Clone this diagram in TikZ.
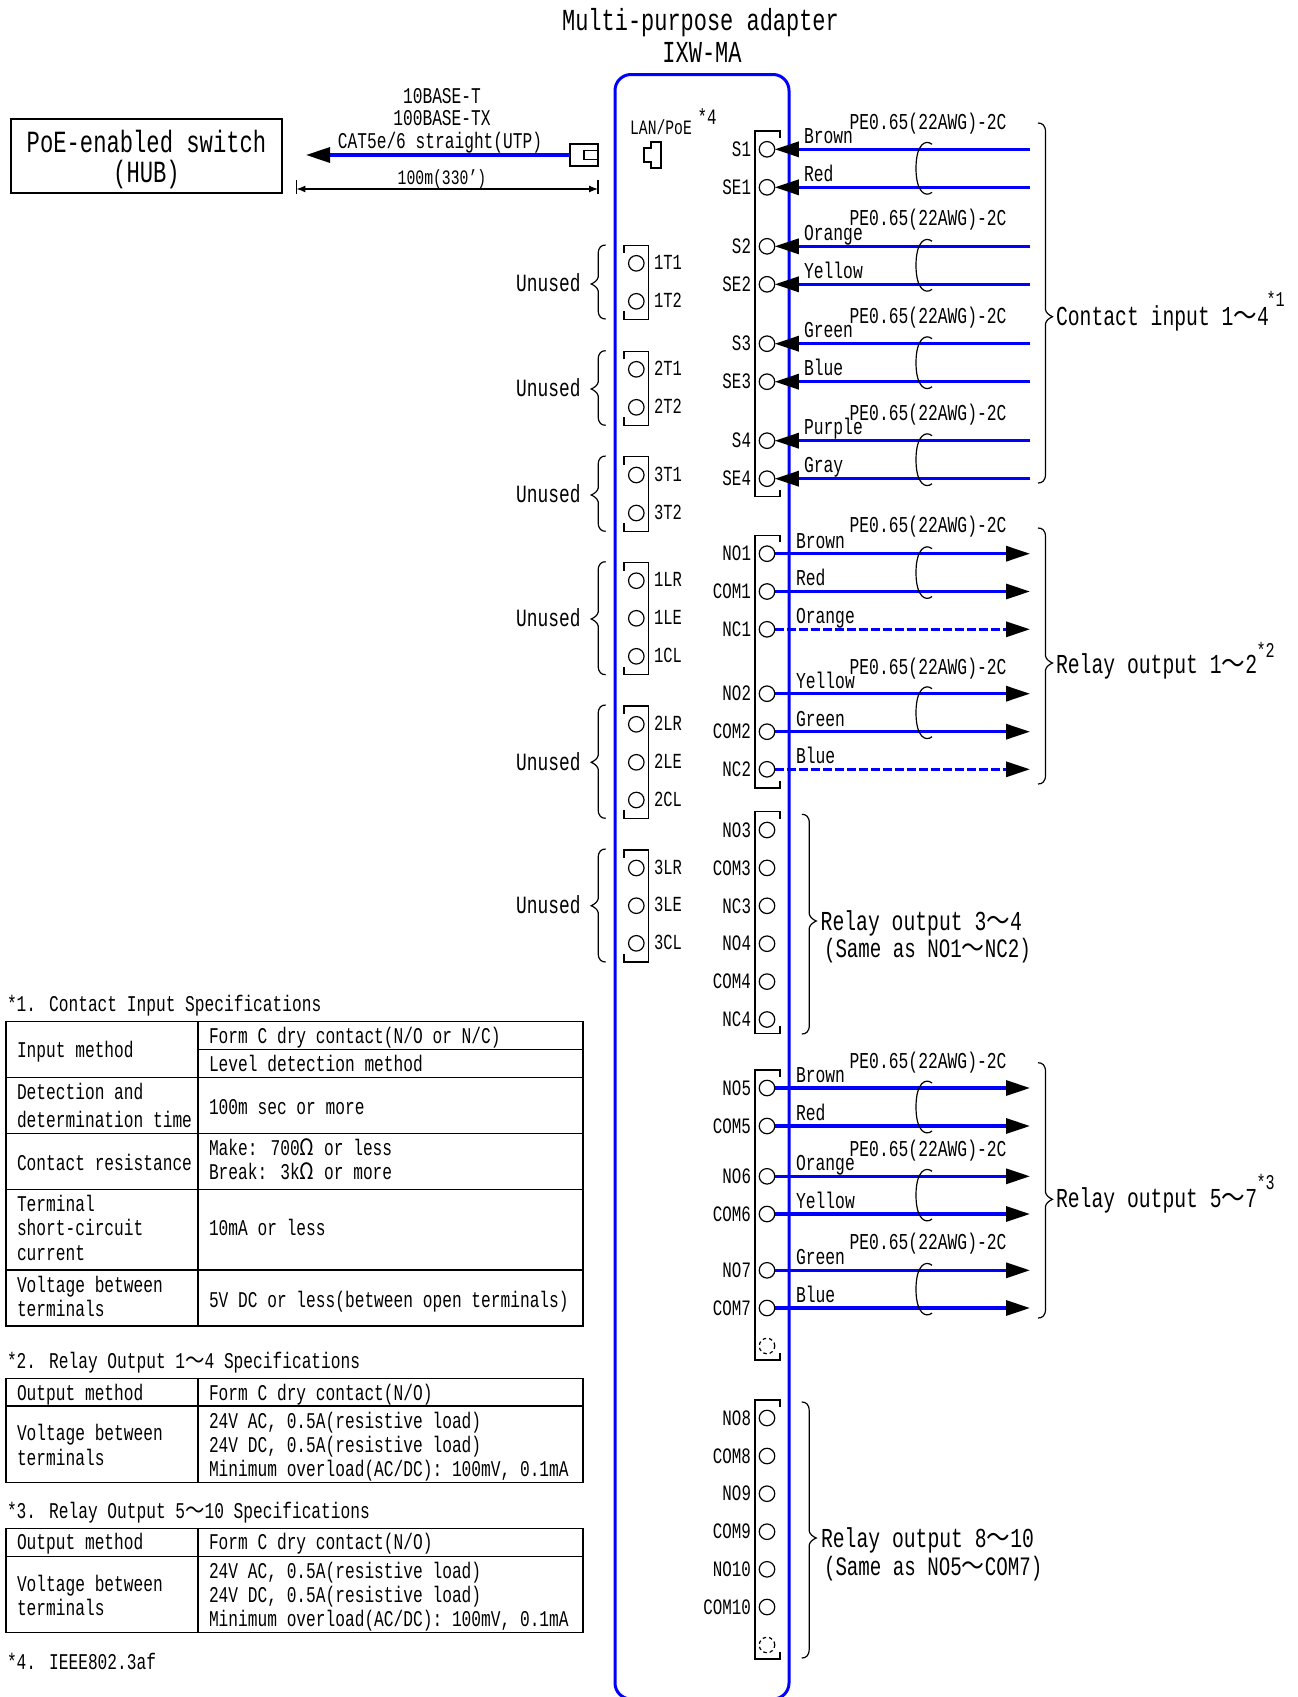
\documentclass[tikz,border=0pt]{standalone}
\usepackage{fontspec}
\setmainfont[FakeStretch=0.72]{Liberation Mono}
\newfontfamily\cjkf[FakeStretch=0.86]{Noto Sans CJK JP}
\usetikzlibrary{arrows.meta}
\newcommand\tld{{\cjkf ～}}
\newcommand\ohm{{\cjkf Ω}}
\definecolor{wireblue}{RGB}{0,0,255}
\newcount\tcnt
\newcommand\tx[4][fz=22.5]{\global\advance\tcnt by 1 \node[txt,#1] (t\the\tcnt) at (#2,#3) {#4};}
\newcommand\fs[1]{\fontsize{#1}{#1}\selectfont}
\newcommand\brc[5]{% outer x, dir, top, tip, bottom
  \draw[thinline] (#1,#3) .. controls ({#1+#2*4},#3) and ({#1+#2*7.5},{#3+2}) .. ({#1+#2*7.5},{#3+9})
    -- ({#1+#2*7.5},{#4-7}) .. controls ({#1+#2*8},{#4-4}) and ({#1+#2*11},{#4-1.5}) .. ({#1+#2*14.5},#4)
    .. controls ({#1+#2*11},{#4+1.5}) and ({#1+#2*8},{#4+4}) .. ({#1+#2*7.5},{#4+7})
    -- ({#1+#2*7.5},{#5-9}) .. controls ({#1+#2*7.5},{#5-2}) and ({#1+#2*4},#5) .. (#1,#5);}
\newcommand\bund[2]{%
  \draw[thinline] (932,{#1-5}) .. controls (926,{#1-10}) and (916,{#1-6}) .. (916,{(#1+#2)/2})
    .. controls (916,{#2+6}) and (926,{#2+10}) .. (932,{#2+5});}
\newcommand\rbrk[2]{\draw[thinline] (780,{#1+7}) -- (780,#1) -- (755,#1) -- (755,#2) -- (780,#2) -- (780,{#2-7});}
\newcommand\lbrk[2]{\draw[thinline] (624,{#1+8}) -- (624,#1) -- (648.7,#1) -- (648.7,#2) -- (624,#2) -- (624,{#2-8});}
\tikzset{
  txt/.style={inner sep=0pt,outer sep=0pt,anchor=mid west},
  fz/.style={font=\fs{#1},yshift={-0.21*#1 pt}},
  thinline/.style={line width=1.2pt,black},
  tabline/.style={line width=1.5pt,black},
  termc/.style={circle,draw,minimum size=15.5pt,inner sep=0pt,outer sep=0pt,line width=1.2pt},
  deadc/.style={termc,dash pattern=on 3.5pt off 3pt},
  wire/.style={line width=3.2pt,wireblue},
  dwire/.style={wire,dash pattern=on 9pt off 3pt},
  tipin/.style={-{Triangle[length=24pt,width=15pt,black]}},
}
\begin{document}
\begin{tikzpicture}[x=1pt,y=-1pt]
\useasboundingbox (0,0) rectangle (1298,1697);
% title
\tx[anchor=mid,fz=30.5]{700.5}{21.6}{Multi-purpose adapter}
\tx[anchor=mid,fz=30.5]{702}{53}{IXW-MA}
% adapter body
\draw[line width=3pt,wireblue,rounded corners=16pt] (615,74.5) rectangle (789,1699);
% hub
\node[draw,line width=1.3pt,minimum width=271pt,minimum height=74pt,inner sep=0pt,outer sep=0pt] (hub) at (146.5,156) {};
\tx[anchor=mid,fz=30.8]{146.5}{143}{PoE-enabled switch}
\tx[anchor=mid,fz=30.8]{146.5}{173}{(HUB)}
% LAN cable
\node[draw,line width=1.2pt,minimum width=28pt,minimum height=22pt,inner sep=0pt,outer sep=0pt] (rj) at (584,155) {};
\node[draw,line width=1.2pt,minimum width=14pt,minimum height=9pt,inner sep=0pt,outer sep=0pt] (rji) at (591,155) {};
\coordinate (lanend) at (306,155);
\draw[wire,tipin] (rj.west) -- (lanend);
\tx[anchor=mid,fz=22.5]{442}{96}{10BASE-T}
\tx[anchor=mid,fz=22.5]{442}{118}{100BASE-TX}
\tx[anchor=mid,fz=22.5]{440}{141}{CAT5e/6 straight(UTP)}
\tx[anchor=mid,fz=20.5]{442}{177.7}{100m(330\symbol{39})}
\coordinate (dimL) at (296.4,189);
\coordinate (dimR) at (598,189);
\draw[thinline,{Latex[length=9pt,width=7pt]}-{Latex[length=9pt,width=7pt]}] (dimL) -- (dimR);
\draw[thinline] (296.4,180) -- (296.4,194) (598,180) -- (598,194);
% LAN port
\tx[anchor=mid,fz=20.4]{661}{128}{LAN/PoE}
\tx[anchor=mid,fz=22]{707}{117}{*4}
\draw[thinline] (651,142) -- (661,142) -- (661,168) -- (651,168) -- (651,162) -- (644,162) -- (644,148) -- (651,148) -- cycle;
% left terminals
\lbrk{245.3}{319.3} \lbrk{351.3}{425.3} \lbrk{456.7}{531.3} \lbrk{562.7}{674.7} \lbrk{706}{818.3} \lbrk{850}{962}
\foreach \n/\y in {1T1/263.3,1T2/301.3,2T1/369.3,2T2/407.3,3T1/475,3T2/513,1LR/580.7,1LE/618.3,1CL/656.3,2LR/724.3,2LE/762.3,2CL/800,3LR/868,3LE/905.7,3CL/943.3}{
  \node[termc] (\n) at (636.3,\y) {};
  \tx[fz=21.5]{654}{\y-1}{\n}
}
\foreach \a/\b/\c in {245/284/319,350.7/389/425.3,456/495/531.3,561.7/619/674.7,705/762.3/818.3,849/905.7/962}{
  \brc{605.7}{-1}{\a}{\b}{\c}
  \tx[anchor=mid east,fz=24.8]{580.5}{\b}{Unused}
}
% right terminals
\rbrk{131}{496.7} \rbrk{535.3}{788} \rbrk{811.7}{1033.3} \rbrk{1070}{1360} \rbrk{1400}{1659}
\foreach \n/\y in {S1/149.3,SE1/187.3,S2/246.3,SE2/284.3,S3/343.7,SE3/381.7,S4/440.7,SE4/478.7,
   NO1/553.7,COM1/591.5,NC1/629.3,NO2/693.7,COM2/731.7,NC2/769.3,
   NO3/830,COM3/867.9,NC3/905.8,NO4/943.7,COM4/981.6,NC4/1019.5,
   NO5/1088,COM5/1126,NO6/1176.3,COM6/1214,NO7/1270.3,COM7/1308,
   NO8/1418,COM8/1456,NO9/1493.7,COM9/1531.7,NO10/1569.3,COM10/1607}{
  \node[termc] (\n) at (767,\y) {};
  \tx[anchor=mid east,fz=22]{751}{\y}{\n}
  \coordinate (e\n) at (1030,\y);
}
\node[deadc] (dead1) at (767,1346) {};
\node[deadc] (dead2) at (767,1645) {};
% wires
\foreach \n in {S1,SE1,S2,SE2,S3,SE3,S4,SE4}{\draw[wire,tipin] (e\n) -- (\n.east);}
\foreach \n in {NO1,COM1,NO2,COM2,NO5,COM5,NO6,COM6,NO7,COM7}{\draw[wire,tipin] (\n.east) -- (e\n);}
\foreach \n in {NC1,NC2}{\draw[dwire,tipin] (\n.east) -- (e\n);}
% bundles
\bund{149.3}{187.3} \bund{246.3}{284.3} \bund{343.7}{381.7} \bund{440.7}{478.7}
\bund{553.7}{591.5} \bund{693.7}{731.7} \bund{1088}{1126} \bund{1176.3}{1214} \bund{1270.3}{1308}
% cable labels
\foreach \y in {121.7,218.3,315.7,412.7,525,666.7,1060.7,1148.7,1242}{
  \tx[fz=22.7]{849.6}{\y}{PE0.65(22AWG)-2C}
}
\foreach \s/\y in {Brown/135.7,Red/174,Orange/233.3,Yellow/271,Green/330,Blue/368.3,Purple/426.7,Gray/465}{
  \tx[fz=22.7]{804}{\y}{\s}
}
\foreach \s/\y in {Brown/541,Red/577.7,Orange/616,Yellow/681,Green/719.3,Blue/756,Brown/1075,Red/1112.7,Orange/1163.3,Yellow/1201,Green/1257.3,Blue/1295}{
  \tx[fz=22.7]{796}{\y}{\s}
}
% group braces
\brc{1038}{1}{123}{316.7}{483}
\brc{1038}{1}{528}{663}{784}
\brc{801.8}{1}{814.3}{921}{1034}
\brc{1038}{1}{1062.7}{1199.3}{1318}
\brc{801.7}{1}{1402}{1538}{1658}
\tx[fz=27.4]{1056}{316.7}{Contact input 1\tld 4}
\tx[anchor=mid,fz=21]{1275.6}{299}{*1}
\tx[fz=27.4]{1056}{665}{Relay output 1\tld 2}
\tx[anchor=mid,fz=21]{1265.6}{650}{*2}
\tx[fz=27.4]{820.7}{921.7}{Relay output 3\tld 4}
\tx[fz=26.6]{824}{949.3}{(Same as NO1\tld NC2)}
\tx[fz=27.4]{1056}{1199.3}{Relay output 5\tld 7}
\tx[anchor=mid,fz=21]{1265.6}{1182.7}{*3}
\tx[fz=27.4]{821}{1539}{Relay output 8\tld 10}
\tx[fz=26.6]{824}{1567}{(Same as NO5\tld COM7)}
% table 1
\tx{7}{1004}{*1. Contact Input Specifications}
\draw[tabline] (6,1021.3) rectangle (583,1326);
\draw[tabline] (198,1021.3) -- (198,1326);
\draw[tabline] (198,1049.3) -- (583,1049.3);
\draw[tabline] (6,1077.3) -- (583,1077.3) (6,1133.3) -- (583,1133.3) (6,1189.3) -- (583,1189.3) (6,1270) -- (583,1270);
\tx{17}{1050}{Input method}
\tx{209}{1035.7}{Form C dry contact(N/O or N/C)}
\tx{209}{1064}{Level detection method}
\tx{17}{1091.7}{Detection and}
\tx{17}{1120}{determination time}
\tx{209}{1107.3}{100m sec or more}
\tx{17}{1162.7}{Contact resistance}
\tx{209}{1147.7}{Make: 700\ohm{} or less}
\tx{209}{1172.3}{Break: 3k\ohm{} or more}
\tx{17}{1204}{Terminal}
\tx{17}{1228.3}{short-circuit}
\tx{17}{1253.3}{current}
\tx{209}{1228.3}{10mA or less}
\tx{17}{1285}{Voltage between}
\tx{17}{1309.3}{terminals}
\tx{209}{1300}{5V DC or less(between open terminals)}
% table 2
\tx{7}{1361}{*2. Relay Output 1\tld 4 Specifications}
\draw[tabline] (6,1378.3) rectangle (583,1482.7);
\draw[tabline] (198,1378.3) -- (198,1482.7) (6,1406) -- (583,1406);
\tx{17}{1392.7}{Output method}
\tx{209}{1392.7}{Form C dry contact(N/O)}
\tx{17}{1433.3}{Voltage between}
\tx{17}{1458}{terminals}
\tx{209}{1421}{24V AC, 0.5A(resistive load)}
\tx{209}{1445}{24V DC, 0.5A(resistive load)}
\tx{209}{1469}{Minimum overload(AC/DC): 100mV, 0.1mA}
% table 3
\tx{7}{1511}{*3. Relay Output 5\tld 10 Specifications}
\draw[tabline] (6,1528.3) rectangle (583,1632.7);
\draw[tabline] (198,1528.3) -- (198,1632.7) (6,1556.3) -- (583,1556.3);
\tx{17}{1542.3}{Output method}
\tx{209}{1542.3}{Form C dry contact(N/O)}
\tx{17}{1584}{Voltage between}
\tx{17}{1608}{terminals}
\tx{209}{1571}{24V AC, 0.5A(resistive load)}
\tx{209}{1595}{24V DC, 0.5A(resistive load)}
\tx{209}{1618.7}{Minimum overload(AC/DC): 100mV, 0.1mA}
\tx{7}{1661.7}{*4. IEEE802.3af}
\end{tikzpicture}
\end{document}
